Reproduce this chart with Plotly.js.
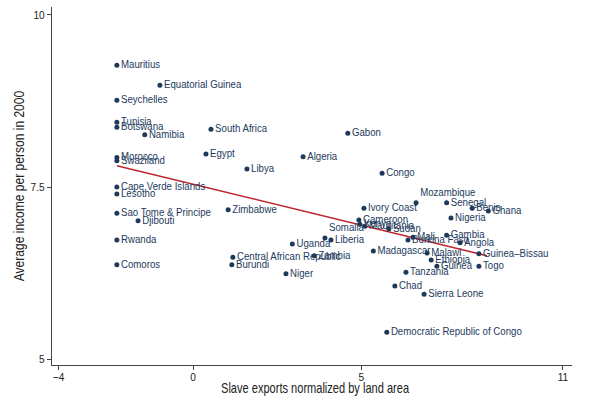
<!DOCTYPE html>
<html>
<head>
<meta charset="utf-8">
<script src="https://cdn.plot.ly/plotly-3.0.1.min.js"></script>
<style>html,body{margin:0;padding:0;background:#fff;}#chart{width:600px;height:404px;}</style>
</head>
<body>
<div id="chart"></div>
<script>
const countries = ["Mauritius","Equatorial Guinea","Seychelles","Tunisia","Botswana","Namibia","South Africa","Morocco","Swaziland","Egypt","Libya","Algeria","Gabon","Congo","Cape Verde Islands","Lesotho","Sao Tome & Principe","Djibouti","Zimbabwe","Rwanda","Comoros","Central African Republic","Burundi","Niger","Uganda","Somalia","Liberia","Zambia","Madagascar","Ivory Coast","Cameroon","Kenya","Mauritania","Sudan","Mali","Burkina Faso","Mozambique","Senegal","Benin","Ghana","Nigeria","Gambia","Angola","Guinea\u2013Bissau","Togo","Malawi","Ethiopia","Guinea","Tanzania","Chad","Sierra Leone","Democratic Republic of Congo"];
const slaveExports = [-2.27,-0.99,-2.27,-2.27,-2.27,-1.44,0.53,-2.27,-2.27,0.38,1.60,3.27,4.60,5.62,-2.27,-2.27,-2.27,-1.64,1.04,-2.27,-2.27,1.18,1.15,2.76,2.95,3.92,4.10,3.60,5.36,5.08,4.93,4.96,5.11,5.82,6.54,6.39,6.63,7.54,8.30,8.78,7.67,7.54,7.94,8.50,8.50,6.96,7.08,7.25,6.33,6.00,6.87,5.76];
const income2000 = [9.27,8.98,8.76,8.44,8.37,8.26,8.34,7.93,7.88,7.98,7.76,7.94,8.28,7.70,7.50,7.40,7.12,7.01,7.17,6.73,6.37,6.48,6.37,6.24,6.67,6.76,6.73,6.50,6.57,7.19,7.02,6.96,6.93,6.89,6.77,6.73,7.27,7.27,7.19,7.15,7.05,6.80,6.69,6.53,6.35,6.54,6.44,6.35,6.26,6.06,5.94,5.39];
const fitX = [-2.27, 8.74];
const fitY = [7.81, 6.50];
const xTicks = [-4, 0, 5, 11];
const yTicks = [5, 7.5, 10];
const xTitle = 'Slave exports normalized by land area';
const yTitle = 'Average income per person in 2000';
const raisedLabels = ["Mozambique", "Somalia"];

const FONT = '"Liberation Sans", Arial, sans-serif';
const NAVY = '#1d3a5c';

const traces = [
  {
    x: fitX, y: fitY, mode: 'lines', type: 'scatter',
    line: {color: '#c0262d', width: 1.5}, hoverinfo: 'skip', showlegend: false
  },
  {
    x: slaveExports, y: income2000, text: countries, mode: 'markers+text', type: 'scatter',
    textposition: countries.map(c => raisedLabels.includes(c) ? 'top right' : 'middle right'),
    marker: {color: NAVY, size: 5},
    textfont: {family: FONT, size: 11.5, color: NAVY},
    cliponaxis: false, showlegend: false
  }
];

const layout = {
  width: 600, height: 404,
  margin: {l: 52, r: 28, t: 7, b: 39},
  paper_bgcolor: '#fff', plot_bgcolor: '#fff',
  font: {family: FONT, color: '#222'},
  xaxis: {
    range: [-4.2, 11.27], tickvals: xTicks, ticktext: xTicks.map(v => v < 0 ? '\u2212' + Math.abs(v) : String(v)),
    showgrid: false, zeroline: false, showline: true, linecolor: '#444', linewidth: 1,
    ticks: 'outside', ticklen: 4, tickcolor: '#444', ticklabelstandoff: -3,
    tickfont: {family: FONT, size: 11.5, color: '#222'}
  },
  yaxis: {
    range: [4.913, 10.116], tickvals: yTicks, ticktext: ['5', '7.5', '10'],
    showgrid: false, zeroline: false, showline: true, linecolor: '#444', linewidth: 1,
    ticks: 'outside', ticklen: 4, tickcolor: '#444', tickfont: {family: FONT, size: 11.5, color: '#222'},
    title: {text: yTitle, font: {family: FONT, size: 14, color: '#222'}, standoff: 0}
  },
  annotations: [{
    text: xTitle, xref: 'paper', yref: 'paper', x: 0.5, y: 0, xanchor: 'center', yanchor: 'middle',
    xshift: 3, yshift: -23, showarrow: false, font: {family: FONT, size: 14, color: '#222'}
  }]
};

function condense(sel, s) {
  document.querySelectorAll(sel).forEach(t => {
    const x = parseFloat(t.getAttribute('x')) || 0;
    const prev = t.getAttribute('transform') || '';
    t.setAttribute('transform', (prev + ' translate(' + (x * (1 - s)) + ',0) scale(' + s + ',1)').trim());
  });
}

Plotly.newPlot('chart', traces, layout, {displayModeBar: false, staticPlot: true}).then(() => {
  condense('#chart g.textpoint text', 0.84);
  condense('#chart .g-ytitle text', 0.86);
  condense('#chart g.annotation text', 0.79);
  condense('#chart .xtick text, #chart .ytick text', 0.88);
});
</script>
</body>
</html>
